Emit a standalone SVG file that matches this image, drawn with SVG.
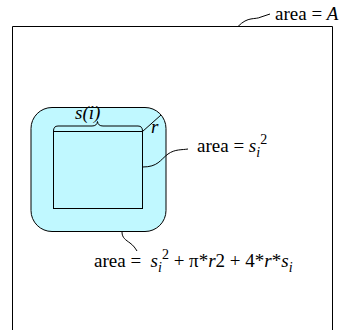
<svg xmlns="http://www.w3.org/2000/svg" width="347" height="330" viewBox="0 0 347 330">
<style>
.ln{fill:none;stroke:#000;stroke-width:1}
.t{font-family:"Liberation Serif",serif;font-size:19px;fill:#000}
.i{font-style:italic}
.s{font-size:14px}
</style>
<rect width="347" height="330" fill="#fff"/>
<g id="outer">
<path class="ln" d="M12.5,331 V26.5 H332.5 V331"/>
<text class="t" x="275" y="20">area = <tspan class="i">A</tspan></text>
</g>
<g id="rounded">
<rect x="31" y="107.5" width="135" height="124" rx="21" ry="21" fill="#c0f8ff" stroke="#000" stroke-width="1"/>
</g>
<g id="square">
<rect x="53.5" y="131.5" width="89" height="77" fill="#c0f8ff" stroke="#000" stroke-width="1"/>
<path class="ln" d="M53.5,131 Q53.5,126 58,126 H92 Q97,126 97.5,121.5 Q98,126 103,126 H138 Q142.5,126 142.5,131"/>
<text class="t i" x="75" y="119" font-size="16">s(i)</text>
<path class="ln" d="M142.5,131.5 L161,115"/>
<text class="t i" x="151" y="133" font-size="16">r</text>
</g>
<g id="connectors">
<path class="ln" d="M238,26.5 C248,16 255,20 261,17 C264,16 267,15 270,14"/>
<path class="ln" d="M142.5,167 C158,167 160,160 168,154 C175,149 182,150 188,149"/>
<path class="ln" d="M122,232 C122,238 126,240 130,243 C134,246 135,248 137,251"/>
</g>
<g id="labels">
<text class="t" x="197" y="152">area = <tspan class="i">s</tspan><tspan class="i s" dy="5">i</tspan><tspan class="s" dy="-13">2</tspan></text>
<text class="t" x="94" y="267" xml:space="preserve">area =  <tspan class="i">s</tspan><tspan class="i s" dy="5">i</tspan><tspan class="s" dy="-13">2</tspan><tspan dy="8"> + π*<tspan class="i">r</tspan>2 + 4*<tspan class="i">r</tspan>*<tspan class="i">s</tspan></tspan><tspan class="i s" dy="5">i</tspan></text>
</g>
</svg>
